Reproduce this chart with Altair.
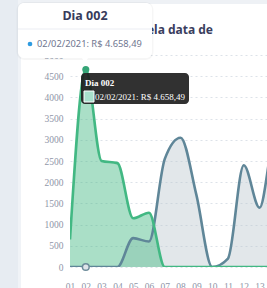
import altair as alt
import pandas as pd

# ---- data ----
days = list(range(1, 16))
green_vals = [650, 4658.49, 2500, 2450, 1150, 1280, 0, 0, 0, 0, 0, 0, 0, 0, 0]
gray_vals = [0, 0, 0, 0, 680, 600, 2550, 3050, 1700, 0, 200, 2400, 1400, 3100, 1500]
x_ticks = list(range(1, 14))
y_ticks = list(range(0, 5001, 500))

title_text = "pela data de"
tip_header = "Dia 002"
tip_body = "02/02/2021: R$ 4.658,49"

df = pd.DataFrame({"dia": days, "verde": green_vals, "cinza": gray_vals})

W, H = 197, 212
OX, OY = 70, 55  # plot origin in page pixels

GREEN = "#42b883"
GRAY = "#5f8698"

xs = alt.Scale(domain=[1, 13.47], nice=False, zero=False)
ys = alt.Scale(domain=[0, 5000], nice=False)

xaxis = alt.Axis(values=x_ticks, labelExpr="datum.value < 10 ? '0' + datum.value : '' + datum.value",
                 title=None, ticks=False, domain=False, grid=False, labelPadding=14, labelOverlap=False,
                 labelFlush=False, labelAlign="center",
                 labelFont="Liberation Serif", labelFontSize=9.5, labelColor="#8f96a8", labelBaseline="top")
yaxis = alt.Axis(values=y_ticks, format="d", title=None, ticks=False, domain=False, grid=True,
                 gridDash=[2, 3], gridColor="#dde2e9", gridWidth=1, labelPadding=7, labelOverlap=False,
                 labelFlush=False, labelBaseline="middle",
                 labelFont="Liberation Serif", labelFontSize=9.5, labelColor="#8f96a8")


def X():
    return alt.X("dia:Q", scale=xs, axis=xaxis)


def Y(field):
    return alt.Y(f"{field}:Q", scale=ys, axis=yaxis)


base = alt.Chart(df)

gray_area = base.mark_area(interpolate="monotone", color="#b9c5ce", opacity=0.42, clip=True).encode(
    x=X(), y=Y("cinza"))
green_area = base.mark_area(interpolate="monotone", color=GREEN, opacity=0.45, clip=True).encode(
    x=X(), y=Y("verde"))
gray_line = base.mark_line(interpolate="monotone", color=GRAY, strokeWidth=2.6, clip=True).encode(
    x=X(), y=Y("cinza"))
green_line = base.mark_line(interpolate="monotone", color=GREEN, strokeWidth=2.6, clip=True).encode(
    x=X(), y=Y("verde"))

hover = base.transform_filter("datum.dia == 2")
gray_pt = hover.mark_point(shape="circle", size=45, filled=True, fill="#dfe5ea", stroke="#6d8c9a",
                           strokeWidth=1.5, opacity=1).encode(x=X(), y=Y("cinza"))
green_pt = hover.mark_point(shape="circle", size=50, filled=True, color="#35a577", opacity=1).encode(
    x=X(), y=Y("verde"))

one = alt.Data(values=[{}])


def rect(x0, y0, x1, y1, fill, opacity=1.0, radius=0, stroke=None, sw=0):
    kw = dict(fill=fill, opacity=opacity, cornerRadius=radius)
    if stroke:
        kw.update(stroke=stroke, strokeWidth=sw)
    return alt.Chart(one).mark_rect(**kw).encode(
        x=alt.value(x0 - OX), x2=alt.value(x1 - OX), y=alt.value(y0 - OY), y2=alt.value(y1 - OY))


def text(t, x, y, size, color, font, weight="normal", align="left", baseline="middle"):
    return alt.Chart(one).mark_text(text=t, fontSize=size, color=color, font=font, fontWeight=weight,
                                    align=align, baseline=baseline).encode(
        x=alt.value(x - OX), y=alt.value(y - OY))


# page background pieces
left_strip = rect(0, 0, 18, 288, "#e7ecf2")
left_strip2 = rect(18, 0, 21, 288, "#f0f3f7")
top_band = rect(21, 0, 267, 4, "#eef1f5")
title = text(title_text, 213, 29.5, 12, "#3a3e5e", "Noto Sans", weight="bold", align="right")

# white tooltip (ApexCharts-like)
shadow = rect(16.5, 2, 153.5, 60, "#000000", opacity=0.035, radius=8)
card = rect(18, 3, 152, 58, "#ffffff", radius=6)
pointer = alt.Chart(one).mark_point(shape="triangle-down", size=55, filled=True, color="#ffffff",
                                    opacity=1).encode(x=alt.value(85 - OX), y=alt.value(60 - OY))
divider = rect(18, 28.5, 152, 29.5, "#eceef3")
hdr = text(tip_header, 85, 15.5, 12.5, "#373c5c", "Noto Sans", weight="bold", align="center")
dot = alt.Chart(one).mark_point(shape="circle", size=22, filled=True, color="#2f9be0", opacity=1).encode(
    x=alt.value(30 - OX), y=alt.value(44 - OY))
body = text(tip_body, 37, 44, 9.3, "#6f7690", "Noto Sans")

# dark tooltip (Chart.js-like)
dark = rect(81, 73, 189, 104, "#1b1b1b", opacity=0.9, radius=4)
dhdr = text(tip_header, 85, 83, 9, "#ffffff", "Liberation Serif", weight="bold")
swatch = rect(84, 91, 94, 102, "#a8e0cc", stroke="#ffffff", sw=1)
dbody = text(tip_body, 95, 97, 9, "#ffffff", "Liberation Serif")

chart = alt.layer(
    left_strip, left_strip2, top_band, title,
    gray_area, green_area, gray_line, green_line, gray_pt, green_pt,
    shadow, card, pointer, divider, hdr, dot, body,
    dark, dhdr, swatch, dbody,
).properties(
    width=W, height=H,
    autosize=alt.AutoSizeParams(type="none"),
    padding={"left": OX, "top": OY, "right": 0, "bottom": 21},
    background="#ffffff",
).configure_view(stroke=None).configure_axis(labelOverlap=False, labelFlush=False)

chart.save("out.html", embed_options={"renderer": "svg", "actions": False})
